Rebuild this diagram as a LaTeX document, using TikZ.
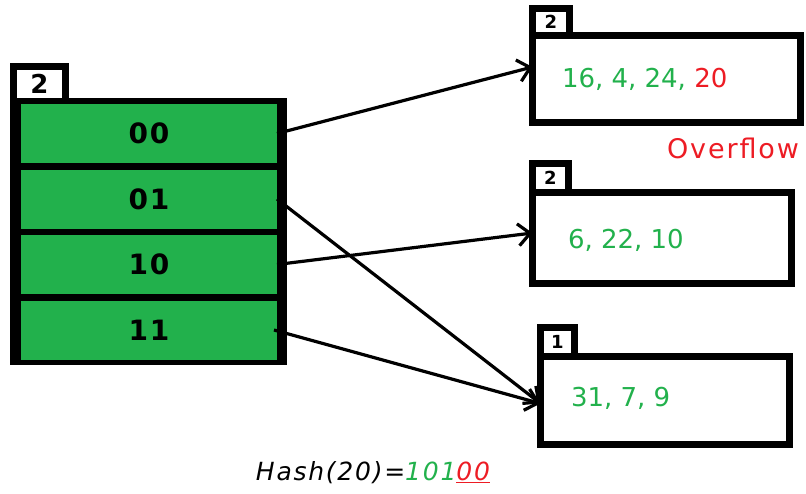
\documentclass[tikz,border=0pt]{standalone}
\usepackage{fontspec}
\setmainfont{DejaVu Sans}
\newfontfamily\spaced[LetterSpace=7]{DejaVu Sans}
\usetikzlibrary{arrows.meta,positioning}
\definecolor{paintgreen}{RGB}{34,177,76}
\definecolor{paintred}{RGB}{237,28,36}
\begin{document}
\begin{tikzpicture}[x=1pt, y=-1pt, outer sep=0pt,
    slot/.style={rectangle, fill=paintgreen, minimum width=256pt, minimum height=59pt, inner sep=0pt, font=\spaced\fontsize{28}{28}\selectfont\bfseries},
    bucket/.style={rectangle, draw, line width=7pt, fill=white, inner sep=0pt},
    depth/.style={rectangle, draw, line width=7pt, fill=white, inner sep=0pt, anchor=south west, font=\fontsize{18}{18}\selectfont\bfseries},
    keys/.style={anchor=west, inner sep=0pt, text=paintgreen, font=\fontsize{26}{26}\selectfont},
    ptr/.style={-{Straight Barb[length=12pt,width=22pt]}, line width=3.2pt}]
    \useasboundingbox (0,0) rectangle (806,493);

    % directory
    \node [rectangle, fill=black, minimum width=277pt, minimum height=267pt] (dir) at (148.5,231.5) {};
    \node [depth, minimum width=52pt, minimum height=35pt, font=\fontsize{26}{26}\selectfont\bfseries] (dirdepth) at ([xshift=3.5pt,yshift=-3.5pt]dir.north west) {2};
    \node [slot] (row00) at (149,133.5) {00};
    \node [slot, below=6.5pt of row00] (row01) {01};
    \node [slot, below=6.5pt of row01] (row10) {10};
    \node [slot, below=6.5pt of row10] (row11) {11};

    % buckets
    \node [bucket, minimum width=268pt, minimum height=87pt] (b1) at (666.5,79) {};
    \node [depth, minimum width=37pt, minimum height=27pt] (b1depth) at (b1.north west) {2};
    \node [keys] (b1keys) at ([xshift=29.5pt]b1.west) {16, 4, 24, \textcolor{paintred}{20}};
    \node [text=paintred, font=\spaced\fontsize{27}{27}\selectfont] (overflow) at (733,148) {Overflow};

    \node [bucket, minimum width=259pt, minimum height=91pt] (b2) at (662,238) {};
    \node [depth, minimum width=36pt, minimum height=29pt] (b2depth) at (b2.north west) {2};
    \node [keys] (b2keys) at ([xshift=35.5pt,yshift=-2pt]b2.west) {6, 22, 10};

    \node [bucket, minimum width=249pt, minimum height=88pt] (b3) at (665,400.5) {};
    \node [depth, minimum width=34pt, minimum height=29pt] (b3depth) at (b3.north west) {1};
    \node [keys] (b3keys) at ([xshift=30.5pt,yshift=2pt]b3.west) {31, 7, 9};

    \node [font=\spaced\fontsize{25}{25}\selectfont\itshape] (hash) at (373,473) {Hash(20)=\textcolor{paintgreen}{101}\textcolor{paintred}{\underline{00}}};

    \draw [ptr] (row00.east) -- ([yshift=12pt]b1.west);
    \draw [ptr] (row01.east) -- ([yshift=-3pt]b3.west);
    \draw [ptr] (row10.east) -- ([yshift=5pt]b2.west);
    \draw [ptr] ([xshift=-3pt]row11.east) -- ([yshift=-3pt]b3.west);
\end{tikzpicture}
\end{document}
